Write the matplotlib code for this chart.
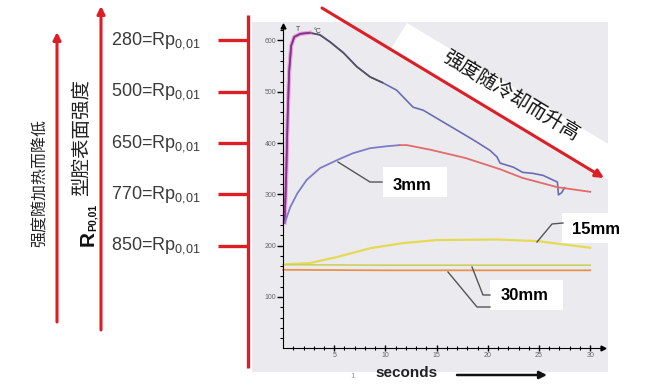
import matplotlib.pyplot as plt
import matplotlib.transforms as mtransforms
from matplotlib.patches import Polygon, Rectangle
from matplotlib.ticker import FixedLocator

plt.rcParams['font.family'] = ['Liberation Sans', 'Noto Sans CJK SC', 'DejaVu Sans']
plt.rcParams['mathtext.fontset'] = 'custom'
plt.rcParams['mathtext.rm'] = 'Liberation Sans'
plt.rcParams['mathtext.bf'] = 'Liberation Sans:bold'

# surface temperature (s, degC)
surf_t = [0.15, 0.3, 0.45, 0.6, 0.8, 1.1, 1.7, 2.6, 3.6, 4.6, 5.9, 7.2, 8.5, 9.7,
          11.1, 12.7, 13.7, 15.3, 17.0, 18.6, 20.2, 20.9, 21.2, 22.5, 23.4, 24.4,
          25.4, 26.8, 26.9, 27.2, 27.5]
surf_T = [245, 330, 450, 540, 590, 607, 613, 615, 611, 597, 576, 549, 529, 518,
          503, 470, 464, 445, 425, 406, 386, 373, 361, 353, 343, 341,
          337, 324, 299, 303, 313]

# 3 mm below surface
t3 = [0.2, 0.7, 1.4, 2.3, 3.6, 5.3, 6.8, 8.5, 10.2, 11.4, 12.1, 14.4, 17.8, 21.2, 23.4, 26.8, 30.0]
T3 = [246, 275, 302, 328, 351, 367, 380, 390, 394, 396, 396, 387, 371, 349, 332, 314, 305]

# 15 mm
t15 = [0.4, 2.6, 5.3, 8.5, 11.7, 15.0, 20.9, 24.8, 30.0]
T15 = [164, 166, 178, 195, 205, 211, 212, 209, 196]

# 30 mm (two almost flat traces)
t30 = [0, 10, 20, 30]
T30_upper = [163, 162, 162, 162]
T30_lower = [153, 152, 152, 152]

# left scale: temperature level -> yield strength
levels = [600, 500, 400, 300, 200]
rp_values = [280, 500, 650, 770, 850]

W, H = 650, 391
red = '#dc1f26'

fig = plt.figure(figsize=(W / 100, H / 100), dpi=100)

# main chart (scanned diagram)
ax = fig.add_axes([252 / W, 1 - 372 / H, 356 / W, 350 / H])
ax.set_facecolor('#ebebef')
ax.set_xlim(-3.03, 31.74)
ax.set_ylim(-46.2, 636)
for s in ['top', 'right']:
    ax.spines[s].set_visible(False)
ax.spines['left'].set_position(('data', 0))
ax.spines['bottom'].set_position(('data', 0))
ax.spines['left'].set_bounds(0, 625)
ax.spines['bottom'].set_bounds(0, 31.2)
ax.set_xticks([5, 10, 15, 20, 25, 30])
ax.set_yticks([100, 200, 300, 400, 500, 600])
ax.xaxis.set_minor_locator(FixedLocator(range(1, 31)))
ax.yaxis.set_minor_locator(FixedLocator(range(20, 621, 20)))
ax.tick_params(axis='both', which='major', length=4, width=1, labelsize=5, labelcolor='#666', pad=1)
ax.tick_params(axis='both', which='minor', length=2.5, width=0.8)
ax.tick_params(axis='x', which='both', direction='inout')
ax.plot(0, 628, marker='^', color='k', ms=3.5, clip_on=False)
ax.plot(31.3, 0, marker='>', color='k', ms=3.5, clip_on=False)
ax.text(1.5, 621, 'T', fontsize=5, color='#444', ha='center', va='center')
ax.text(3.4, 618, '°C', fontsize=5, color='#444', ha='center', va='center')

# curves
ax.plot(surf_t, surf_T, color='#6c6cb4', lw=1.2)
ax.plot(surf_t[:14], surf_T[:14], color='#57505e', lw=1.2)
ax.plot(surf_t[:8], surf_T[:8], color='#e070d0', lw=3, alpha=0.6)
ax.plot(surf_t[:8], surf_T[:8], color='#8a3088', lw=1.2)
ax.plot(t3[:10], T3[:10], color='#7c7cc8', lw=1.3)
ax.plot(t3[9:], T3[9:], color='#e36a6a', lw=1.3)
ax.plot(t15, T15, color='#e6da55', lw=1.6)
ax.plot(t30, T30_upper, color='#cdd060', lw=1.2)
ax.plot(t30, T30_lower, color='#e8924e', lw=1.3)

# overlay in pixel coordinates for the annotations around the chart
ov = fig.add_axes([0, 0, 1, 1])
ov.set_xlim(0, W)
ov.set_ylim(H, 0)
ov.axis('off')
ov.set_zorder(3)
trans = mtransforms.blended_transform_factory(ov.transData, ax.transData)

# red scale on the left
ov.plot([248, 248], [15, 368], color=red, lw=2.4, solid_capstyle='butt')
for lv, rp in zip(levels, rp_values):
    ov.plot([218, 248], [lv, lv], color=red, lw=2.4, transform=trans, solid_capstyle='butt')
    ov.text(111, lv, f'{rp}=Rp$_{{0{{,}}01}}$', transform=trans, ha='left', va='center',
            fontsize=13, color='#3a3a3a')

ov.annotate('', xy=(101, 6), xytext=(101, 330),
            arrowprops=dict(arrowstyle='-|>', color=red, lw=2.2, mutation_scale=11, shrinkA=0, shrinkB=0))
ov.annotate('', xy=(57, 32), xytext=(57, 322),
            arrowprops=dict(arrowstyle='-|>', color=red, lw=2.2, mutation_scale=11, shrinkA=0, shrinkB=0))
ov.text(40, 183, '强度随加热而降低', rotation=90, ha='center', va='center', fontsize=11.5, color='#222')
ov.text(82, 137, '型腔表面强度', rotation=90, ha='center', va='center', fontsize=14, color='#222')
ov.text(88, 239, 'R', rotation=90, ha='center', va='center', fontsize=15, fontweight='bold', color='#111')
ov.text(93, 217, 'P0,01', rotation=90, ha='center', va='center', fontsize=7.5, fontweight='bold', color='#111')

# cooling arrow with white band
ov.add_patch(Polygon([(391, 49), (407, 23), (630, 157), (614, 183)], closed=True,
                     facecolor='white', edgecolor='none'))
ov.annotate('', xy=(604, 178), xytext=(322, 8),
            arrowprops=dict(arrowstyle='-|>', color=red, lw=2.2, mutation_scale=12, shrinkA=0, shrinkB=0))
ov.text(511, 96, '强度随冷却而升高', rotation=-31, rotation_mode='anchor', ha='center', va='center',
        fontsize=14, color='#111')

# curve labels
ov.add_patch(Rectangle((383, 167), 64, 30, facecolor='white', edgecolor='none'))
ov.text(412, 185, '3mm', fontsize=12, fontweight='bold', ha='center', va='center')
ov.plot([338, 370, 382], [162, 182, 182], color='#555', lw=1)

ov.add_patch(Rectangle((562, 213), 70, 30, facecolor='white', edgecolor='none'))
ov.text(596, 229, '15mm', fontsize=12, fontweight='bold', ha='center', va='center')
ov.plot([537, 552, 563], [242, 224, 223], color='#555', lw=1)

ov.add_patch(Rectangle((490, 280), 73, 30, facecolor='white', edgecolor='none'))
ov.text(525, 296, '30mm', fontsize=12, fontweight='bold', ha='center', va='center')
ov.plot([448, 477, 490], [272, 307, 307], color='#555', lw=1)
ov.plot([472, 483, 490], [267, 295, 295], color='#555', lw=1)

# time axis caption
ov.text(353, 377, '1', fontsize=6, color='#999', ha='center', va='center')
ov.text(406, 373, 'seconds', fontsize=11, fontweight='bold', ha='center', va='center', color='#222')
ov.annotate('', xy=(547, 375), xytext=(457, 375),
            arrowprops=dict(arrowstyle='-|>', color='#111', lw=1.8, mutation_scale=11, shrinkA=0, shrinkB=0))

fig.savefig('out.png', dpi=100)
